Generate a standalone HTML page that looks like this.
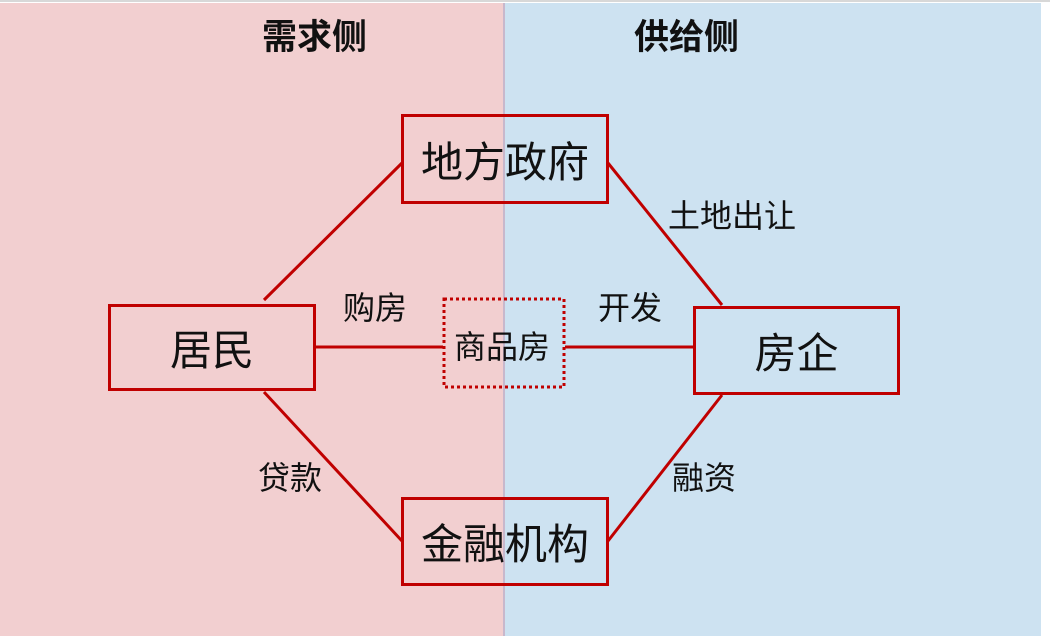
<!DOCTYPE html>
<html><head><meta charset="utf-8"><style>
body{margin:0;width:1050px;height:636px;background:#fff;overflow:hidden;position:relative;font-family:"Liberation Sans","Noto Sans CJK SC",sans-serif;}
.abs{position:absolute}
.box{position:absolute;border:3px solid #c00000;box-sizing:border-box;display:flex;align-items:center;justify-content:center;font-size:42px;color:#111;}
.lbl{position:absolute;font-size:32px;color:#111;line-height:1;}
</style></head><body>
<div class="abs" style="left:0;top:0;width:1050px;height:2px;background:#d8d8d8"></div>
<div class="abs" style="left:0;top:3px;width:504px;height:633px;background:#f2cfd0"></div>
<div class="abs" style="left:504px;top:3px;width:537px;height:633px;background:#cde2f1"></div>
<div class="abs" style="left:503px;top:3px;width:2px;height:633px;background:#c8b8cc"></div>
<div class="abs" style="left:262px;top:20px;font-size:35px;font-weight:bold;color:#111;line-height:1">需求侧</div>
<div class="abs" style="left:634px;top:20px;font-size:35px;font-weight:bold;color:#111;line-height:1">供给侧</div>
<svg class="abs" style="left:0;top:0" width="1050" height="636">
<g stroke="#c00000" stroke-width="3" fill="none">
<line x1="264" y1="300" x2="402" y2="163"/>
<line x1="608" y1="163" x2="722" y2="305"/>
<line x1="264" y1="392" x2="402" y2="541"/>
<line x1="608" y1="541" x2="722" y2="395"/>
<line x1="316" y1="347" x2="443" y2="347"/>
<line x1="565" y1="347" x2="693" y2="347"/>
<rect x="444" y="299" width="120" height="88" stroke-dasharray="3 3"/>
</g></svg>
<div class="box" style="left:401px;top:114px;width:208px;height:90px">地方政府</div>
<div class="box" style="left:108px;top:304px;width:208px;height:87px">居民</div>
<div class="box" style="left:693px;top:306px;width:207px;height:89px">房企</div>
<div class="box" style="left:401px;top:497px;width:208px;height:89px">金融机构</div>
<div class="lbl" style="left:454px;top:331px;font-size:32px">商品房</div>
<div class="lbl" style="left:668px;top:200px">土地出让</div>
<div class="lbl" style="left:343px;top:292px">购房</div>
<div class="lbl" style="left:598px;top:292px">开发</div>
<div class="lbl" style="left:258px;top:462px">贷款</div>
<div class="lbl" style="left:672px;top:462px">融资</div>
</body></html>
